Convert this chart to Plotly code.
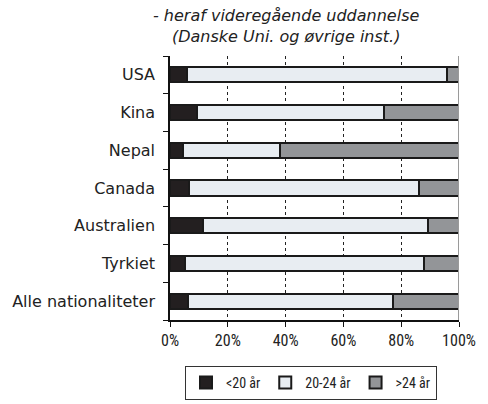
import plotly.graph_objects as go

# Age distribution of students in higher education, by nationality (percent)
countries = ["USA", "Kina", "Nepal", "Canada", "Australien", "Tyrkiet", "Alle nationaliteter"]
under_20 = [6.0, 9.5, 4.6, 6.5, 11.3, 5.3, 6.3]
age_20_24 = [89.9, 64.5, 33.6, 79.8, 77.9, 82.7, 70.8]
over_24 = [4.1, 26.0, 61.8, 13.7, 10.8, 12.0, 22.9]
series_names = ["<20 år", "20-24 år", ">24 år"]
x_ticks = [0, 20, 40, 60, 80, 100]
x_tick_labels = ["0%", "20%", "40%", "60%", "80%", "100%"]
title_lines = ["- heraf videregående uddannelse", "(Danske Uni. og øvrige inst.)"]

colors = ["#231f20", "#e8edf2", "#939598"]
font_family = "DejaVu Sans, sans-serif"
narrow_family = "Liberation Sans Narrow, Roboto Condensed, Roboto, sans-serif"

fig = go.Figure()
for name, vals, col in zip(series_names, [under_20, age_20_24, over_24], colors):
    fig.add_trace(go.Bar(
        y=countries, x=vals, name=name, orientation="h",
        marker=dict(color=col, line=dict(color="#1a1a1a", width=2)),
    ))

# light grey frame line at the 100% edge
fig.add_shape(type="line", xref="x", yref="paper", x0=100, x1=100, y0=0, y1=1,
              line=dict(color="#9a9a9a", width=2))

# two-line italic heading
for i, line in enumerate(title_lines):
    fig.add_annotation(
        text=f"<i>{line}</i>", xref="paper", yref="paper",
        x=(287 - 170) / 291, y=1, yshift=41 - 21 * i,
        xanchor="center", yanchor="middle", showarrow=False,
        font=dict(size=16, color="#222222", family=font_family),
    )

fig.update_layout(
    width=488, height=404,
    margin=dict(l=170, r=27, t=56, b=84),
    barmode="stack", bargap=0.6,
    paper_bgcolor="white", plot_bgcolor="white",
    font=dict(family=font_family, size=16, color="#222222"),
    xaxis=dict(
        range=[0, 100], tickvals=x_ticks, ticktext=x_tick_labels,
        tickfont=dict(family=narrow_family, size=16),
        showgrid=True, gridcolor="#222222", griddash="dot", gridwidth=1,
        showline=True, linecolor="#111111", linewidth=1.5,
        ticks="outside", ticklen=5, tickcolor="#111111",
        zeroline=False, fixedrange=True,
    ),
    yaxis=dict(
        categoryorder="array", categoryarray=countries[::-1],
        showline=True, linecolor="#111111", linewidth=1.5,
        ticks="outside", ticklen=5, tickcolor="#111111", tickson="boundaries",
        showgrid=False, ticklabelstandoff=10, fixedrange=True,
    ),
    legend=dict(
        orientation="h", x=311 / 488, xref="container", xanchor="center",
        y=4 / 404, yref="container", yanchor="bottom",
        bordercolor="#333333", borderwidth=1, bgcolor="white",
        font=dict(family=narrow_family, size=14), traceorder="normal",
        itemwidth=30, tracegroupgap=0,
    ),
    showlegend=True,
)

fig.write_html("out.html")
